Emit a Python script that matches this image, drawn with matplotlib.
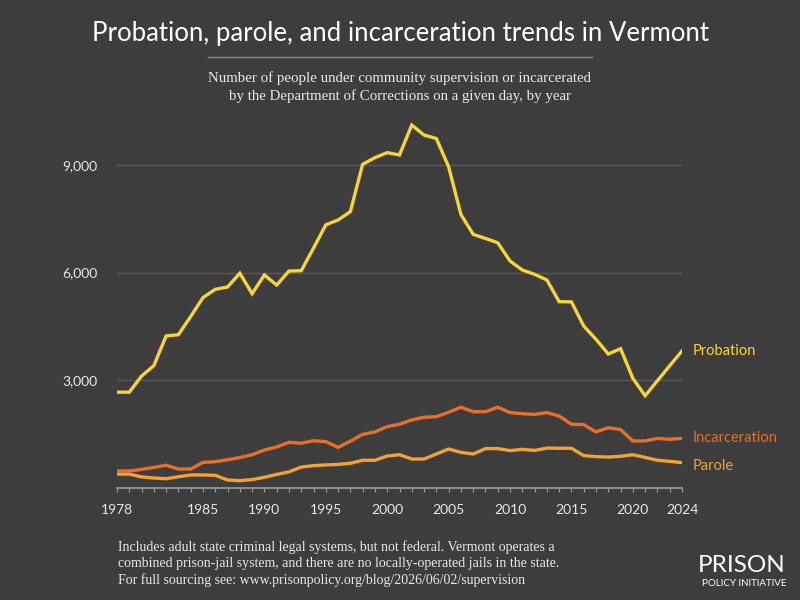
import matplotlib
matplotlib.use("Agg")
import matplotlib.pyplot as plt

# Données (1978-2024)
years = list(range(1978, 2025))
probation = [2660, 2660, 3110, 3400, 4230, 4265, 4770, 5300, 5530, 5595,
             5980, 5410, 5930, 5650, 6040, 6050, 6680, 7330, 7465, 7700,
             9020, 9205, 9345, 9280, 10115, 9835, 9740, 8950, 7620, 7065,
             6950, 6830, 6320, 6070, 5950, 5790, 5185, 5180, 4505, 4135,
             3725, 3875, 3045, 2560, 2980, 3400, 3810]
incarceration = [460, 460, 505, 560, 620, 515, 515, 700, 720, 775,
                 835, 915, 1045, 1130, 1260, 1235, 1305, 1280, 1120, 1290,
                 1485, 1550, 1700, 1765, 1885, 1960, 1975, 2100, 2240, 2115,
                 2115, 2240, 2090, 2060, 2040, 2090, 1995, 1765, 1755, 1550,
                 1670, 1615, 1300, 1300, 1370, 1345, 1370]
parole = [375, 375, 295, 265, 245, 300, 350, 350, 340, 210,
          190, 220, 285, 365, 435, 570, 610, 630, 645, 675,
          760, 760, 880, 915, 795, 795, 935, 1075, 980, 935,
          1085, 1085, 1030, 1065, 1035, 1100, 1095, 1095, 890, 860,
          850, 870, 915, 840, 760, 730, 695]
year_labels = [1978, 1985, 1990, 1995, 2000, 2005, 2010, 2015, 2020, 2024]
y_ticks = [3000, 6000, 9000]

c_prob = '#f7d43c'
c_inc = '#e6702b'
c_par = '#f2a134'
c_txt = '#e8e8e8'
c_bg = '#3d3d3d'

W, H = 800, 600
fig = plt.figure(figsize=(8, 6), dpi=100, facecolor=c_bg)

# axes placés en pixels
x0, x1 = 117, 682
ybot, ytop = 487.5, 110
ax = fig.add_axes([x0 / W, 1 - ybot / H, (x1 - x0) / W, (ybot - ytop) / H])
ax.set_facecolor('none')
ax.set_xlim(1978, 2024)
ax.set_ylim(0, (ybot - ytop) / 107.5 * 3000)

for t in y_ticks:
    ax.axhline(t, color='#5a5a5a', lw=1, zorder=1)

ax.plot(years, parole, color=c_par, lw=2.4, zorder=3, solid_joinstyle='miter')
ax.plot(years, incarceration, color=c_inc, lw=2.4, zorder=3, solid_joinstyle='miter')
ax.plot(years, probation, color=c_prob, lw=2.4, zorder=4, solid_joinstyle='miter')

for s in ['top', 'right', 'left']:
    ax.spines[s].set_visible(False)
ax.spines['bottom'].set_color('#9a9a9a')
ax.spines['bottom'].set_linewidth(1.2)

ax.set_yticks(y_ticks)
ax.set_yticklabels([f'{v:,}' for v in y_ticks])
ax.tick_params(axis='y', length=0, pad=14, labelsize=10, labelcolor=c_txt)
ax.set_xticks(year_labels)
ax.set_xticks(years, minor=True)
ax.tick_params(axis='x', which='both', length=3, color='#9a9a9a', width=0.8,
               labelsize=10, labelcolor=c_txt, pad=9)
for lab in ax.get_xticklabels() + ax.get_yticklabels():
    lab.set_family('Lato')

# étiquettes des séries
ax.text(2024.9, probation[-1], 'Probation', color=c_prob, fontsize=10.5,
        family='Lato', va='center')
ax.text(2024.9, 1370, 'Incarceration', color=c_inc, fontsize=10.5,
        family='Lato', va='center')
ax.text(2024.9, 600, 'Parole', color=c_par, fontsize=10.5,
        family='Lato', va='center')

# titres
fig.text(0.5, 1 - 33 / H, 'Probation, parole, and incarceration trends in Vermont',
         ha='center', va='center', color='white', fontsize=18.5, family='Lato')
fig.add_artist(plt.Line2D([208 / W, 592 / W], [1 - 57 / H] * 2,
                          color='#8a8a8a', lw=1))
fig.text(0.5, 1 - 87 / H, 'Number of people under community supervision or incarcerated\n'
         'by the Department of Corrections on a given day, by year',
         ha='center', va='center', color=c_txt, fontsize=10.7,
         family='Liberation Serif', linespacing=1.4)

fig.text(118 / W, 1 - 564 / H,
         'Includes adult state criminal legal systems, but not federal. Vermont operates a\n'
         'combined prison-jail system, and there are no locally-operated jails in the state.\n'
         'For full sourcing see: www.prisonpolicy.org/blog/2026/06/02/supervision',
         ha='left', va='center', color=c_txt, fontsize=10,
         family='Liberation Serif', linespacing=1.3)

fig.text(786 / W, 1 - 566 / H, 'PRISON', ha='right', va='center', color='white',
         fontsize=17.5, family='Lato')
fig.text(786 / W, 1 - 584 / H, 'POLICY INITIATIVE', ha='right', va='center',
         color='white', fontsize=7, family='Lato')

fig.savefig('out.png', dpi=100, facecolor=c_bg)
